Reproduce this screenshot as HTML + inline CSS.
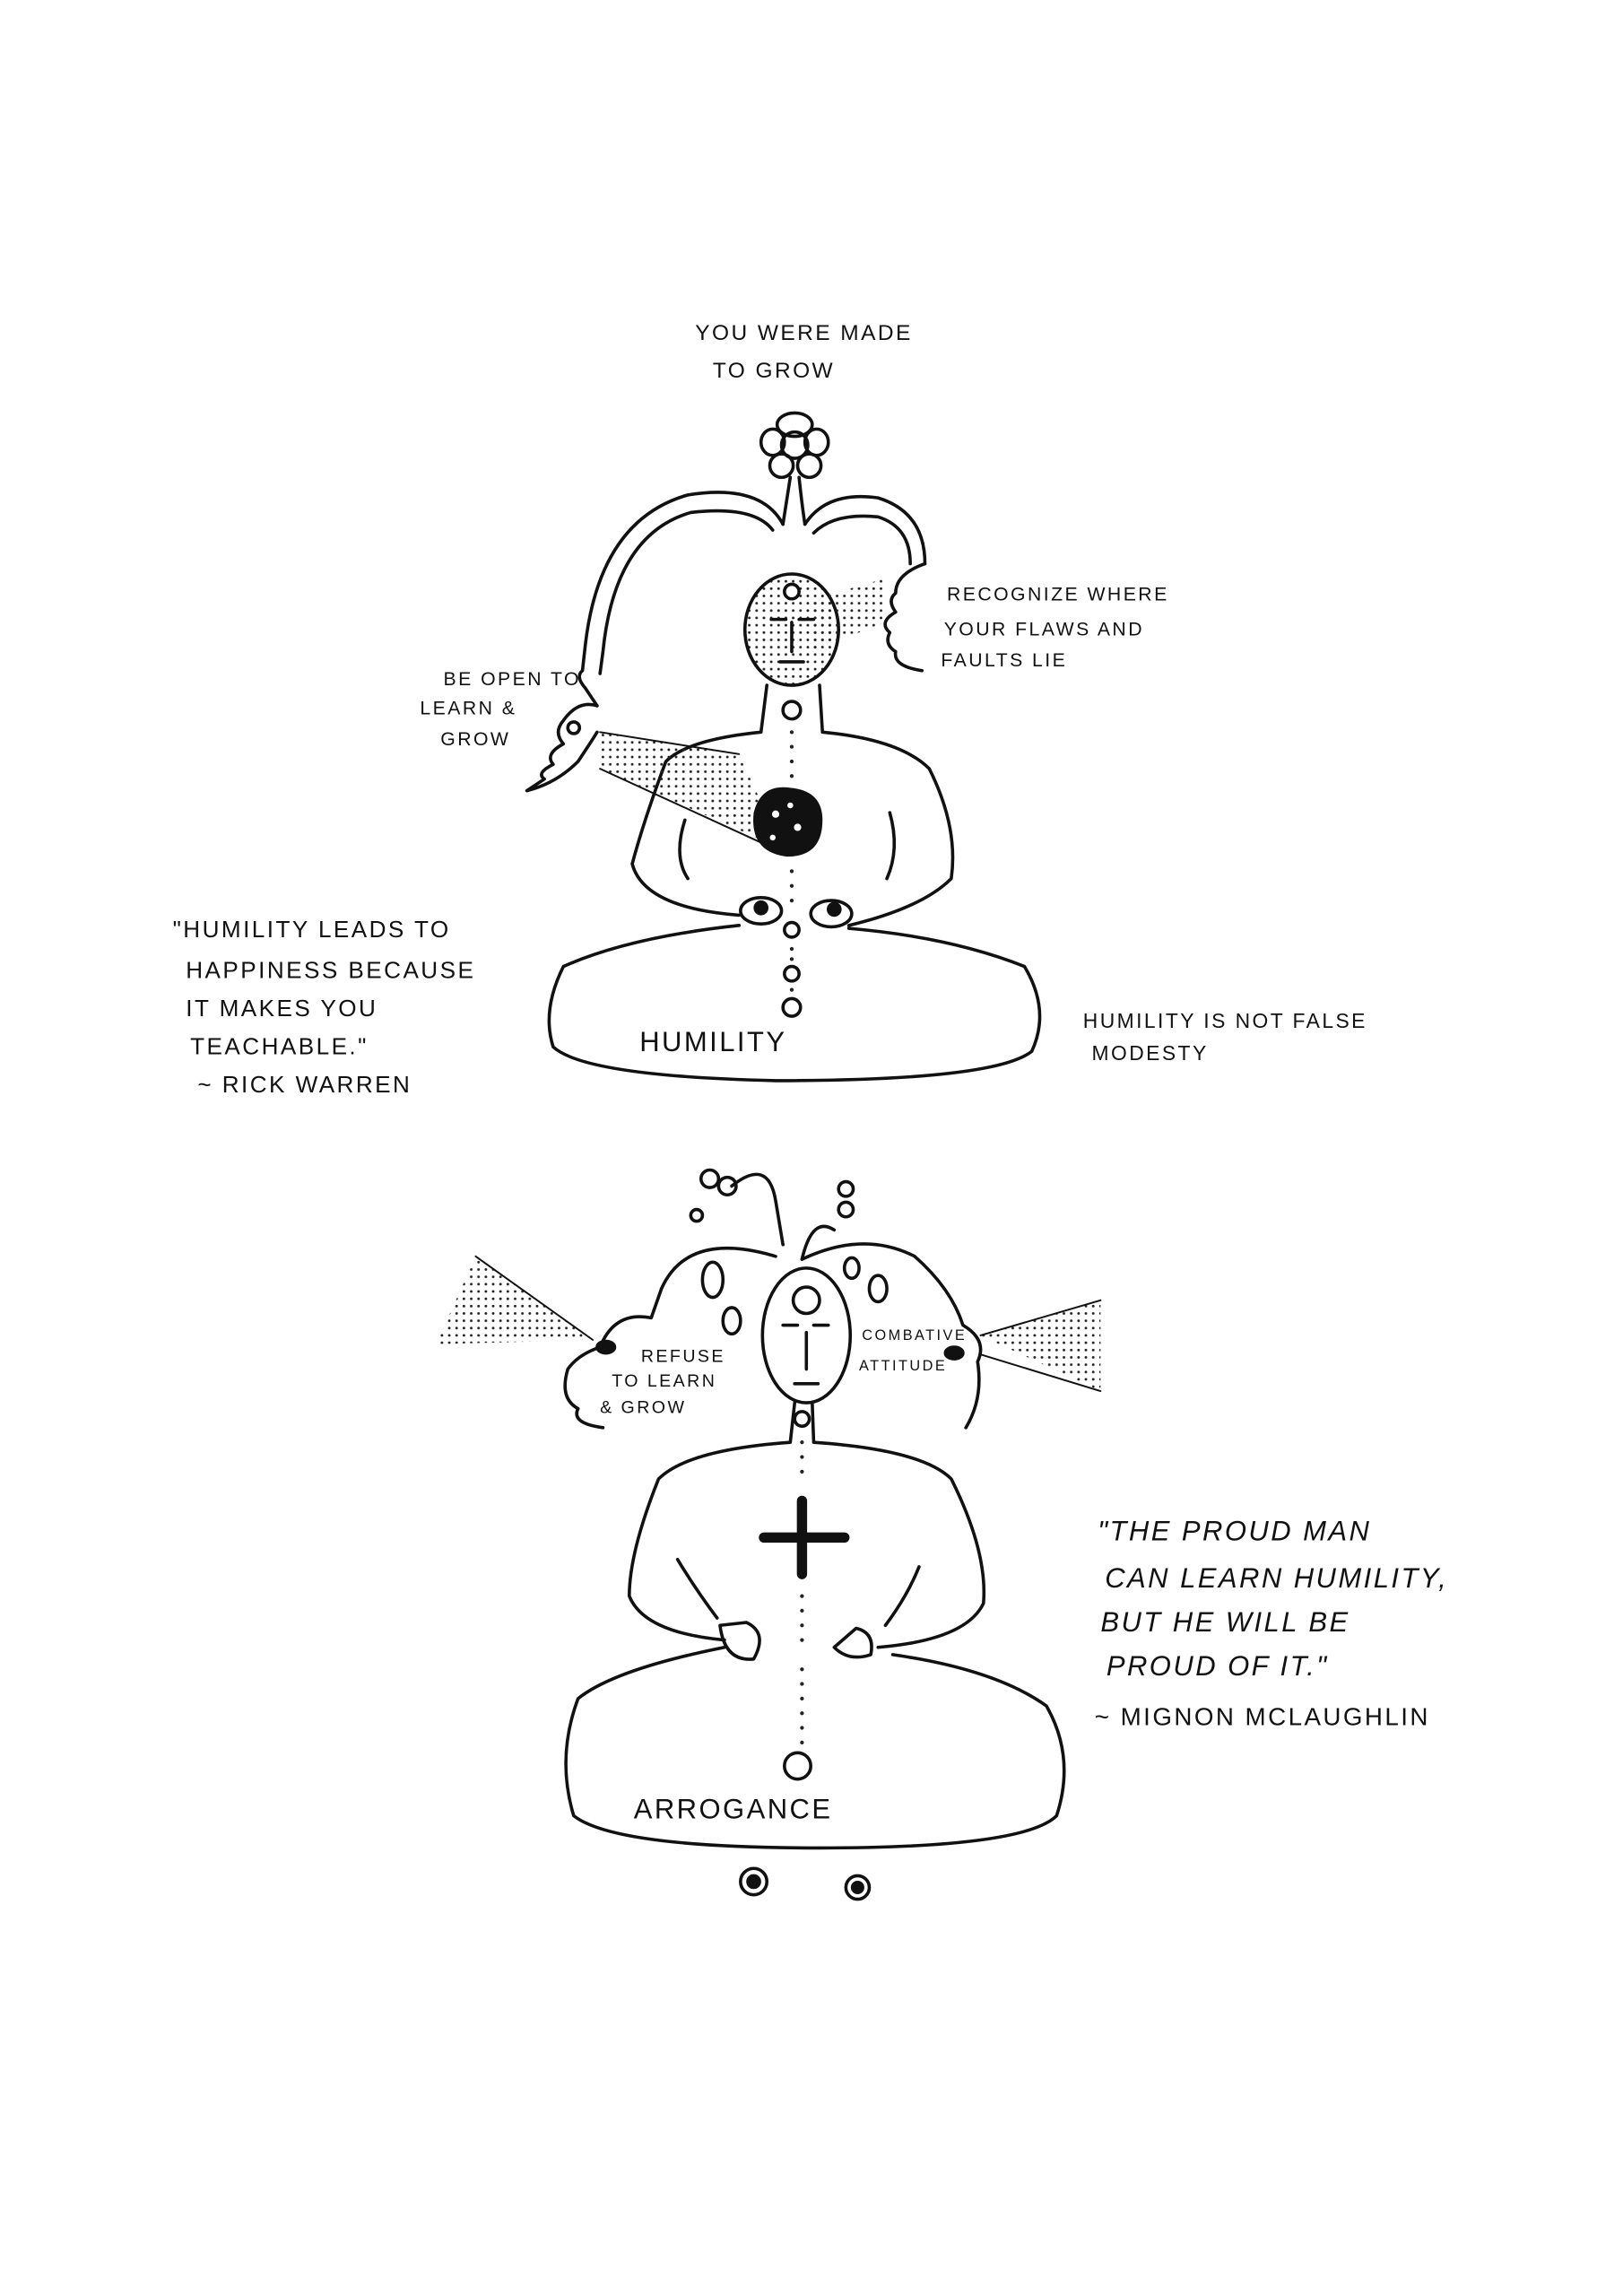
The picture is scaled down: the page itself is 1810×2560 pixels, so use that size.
<!DOCTYPE html>
<html><head><meta charset="utf-8"><style>
html,body{margin:0;padding:0;background:#fff;}
svg{display:block;}
text{font-family:"Liberation Sans",sans-serif;fill:#111;letter-spacing:1.5px;}
</style></head><body>
<svg width="1810" height="2560" viewBox="0 0 1109 1568" preserveAspectRatio="none" xmlns="http://www.w3.org/2000/svg">
<defs>
<pattern id="dots" width="5" height="5" patternUnits="userSpaceOnUse"><circle cx="2" cy="2" r="0.9" fill="#222"/></pattern>
</defs>
<rect width="1109" height="1568" fill="#fff"/>
<g fill="none" stroke="#111" stroke-width="2.2" stroke-linecap="round" stroke-linejoin="round">
<circle cx="543" cy="304" r="9"/>
<ellipse cx="543" cy="290" rx="12" ry="8"/><ellipse cx="528" cy="302" rx="8" ry="9"/><ellipse cx="558" cy="302" rx="8" ry="9"/><ellipse cx="534" cy="318" rx="8" ry="8"/><ellipse cx="553" cy="318" rx="8" ry="8"/>
<path d="M540 326 Q537 345 535 358"/><path d="M546 326 Q548 345 550 358"/>
<path d="M535 358 Q520 330 470 338 Q410 355 400 440 L398 458 Q393 462 400 470 L408 482"/>
<path d="M528 362 Q515 345 472 350 Q420 365 412 445 L410 460"/>
<path d="M550 358 Q565 335 600 340 Q632 350 632 385"/>
<path d="M556 364 Q570 350 600 353 Q622 360 622 385"/>
<ellipse cx="541" cy="430" rx="32" ry="38" fill="url(#dots)"/>
<circle cx="541" cy="404" r="5" fill="#fff"/>
<path d="M527 423 h10 M546 423 h10 M541 425 v20 M533 452 h16"/>
<path d="M632 385 Q612 392 612 405 Q606 410 612 418 Q600 425 608 432 Q604 440 612 445 Q610 455 630 458"/>
<path d="M408 482 Q395 478 385 492 Q378 500 385 508 Q372 515 378 522 Q366 528 372 532 L360 540 Q380 535 395 520 Q405 505 408 500"/>
<circle cx="392" cy="497" r="4"/>
<path d="M524 468 L520 500 Q470 505 455 520 Q440 560 432 590 Q440 620 505 625"/>
<path d="M560 468 L562 500 Q615 505 635 525 Q655 565 650 600 Q630 620 580 632"/>
<path d="M468 560 Q460 585 470 600"/><path d="M608 555 Q615 580 606 600"/>
<ellipse cx="520" cy="622" rx="14" ry="9"/><circle cx="520" cy="620" r="4" fill="#111"/>
<ellipse cx="568" cy="624" rx="14" ry="9"/><circle cx="570" cy="621" r="4" fill="#111"/>
<path d="M505 632 Q430 640 385 660 Q370 690 378 715 Q400 735 530 738 Q680 738 705 718 Q718 690 700 660 Q650 640 580 634"/>
<circle cx="541" cy="485" r="6"/><circle cx="541" cy="635" r="5"/><circle cx="541" cy="665" r="5"/><circle cx="541" cy="688" r="6"/>
<polygon points="553,410 605,395 605,425 553,445" fill="url(#dots)" stroke="none"/>
<polygon points="410,500 505,515 535,580 410,525" fill="url(#dots)" stroke="none"/>
<line x1="410" y1="500" x2="505" y2="515" stroke-width="1.2"/>
<line x1="410" y1="525" x2="530" y2="580" stroke-width="1.2"/>
</g>
<g fill="#222"><circle cx="541" cy="500" r="1.3"/><circle cx="541" cy="510" r="1.3"/><circle cx="541" cy="520" r="1.3"/><circle cx="541" cy="530" r="1.3"/><circle cx="541" cy="595" r="1.3"/><circle cx="541" cy="605" r="1.3"/><circle cx="541" cy="615" r="1.3"/><circle cx="541" cy="648" r="1.3"/><circle cx="541" cy="655" r="1.3"/><circle cx="541" cy="676" r="1.3"/></g>
<path d="M515 555 Q520 535 540 538 Q562 540 562 560 Q562 585 538 585 Q512 582 515 555Z" fill="#111"/>
<g fill="#fff"><circle cx="530" cy="556" r="2.5"/><circle cx="545" cy="565" r="2.5"/><circle cx="540" cy="550" r="2"/><circle cx="528" cy="572" r="2"/></g>

<g fill="none" stroke="#111" stroke-width="2.2" stroke-linecap="round" stroke-linejoin="round">
<circle cx="485" cy="805" r="6"/><circle cx="497" cy="810" r="6"/><circle cx="476" cy="830" r="4"/>
<path d="M500 810 Q525 790 530 820 L535 850"/>
<circle cx="578" cy="812" r="5"/><circle cx="578" cy="826" r="5"/>
<path d="M570 840 Q555 830 548 860"/>
<path d="M530 858 Q470 840 452 880 L445 900 Q420 895 410 920 Q395 925 388 935 Q382 955 395 962 Q390 972 412 975"/>
<path d="M548 860 Q590 840 625 858 Q650 880 658 905 Q675 915 668 930 Q672 955 660 975"/>
<ellipse cx="487" cy="874" rx="7" ry="12"/><ellipse cx="500" cy="902" rx="6" ry="9"/>
<ellipse cx="600" cy="880" rx="6" ry="9"/><ellipse cx="582" cy="866" rx="5" ry="7"/>
<ellipse cx="551" cy="912" rx="30" ry="46"/>
<circle cx="551" cy="888" r="9"/>
<path d="M535 905 h10 M556 905 h10 M551 910 v25 M543 945 h16"/>
<ellipse cx="414" cy="920" rx="6" ry="4" fill="#111"/>
<ellipse cx="652" cy="924" rx="6" ry="4" fill="#111"/>
<path d="M543 958 L540 985 Q470 990 450 1010 Q430 1060 430 1090 Q440 1115 495 1120"/>
<path d="M555 958 L556 985 Q630 990 650 1010 Q675 1060 672 1095 Q660 1120 600 1125"/>
<path d="M463 1065 Q475 1085 490 1105"/><path d="M628 1070 Q620 1090 605 1110"/>
<path d="M492 1110 Q495 1135 515 1133 Q525 1115 510 1108 Z"/>
<path d="M570 1125 Q580 1135 595 1130 Q598 1115 585 1112 Z"/>
<path d="M495 1125 Q420 1140 395 1160 Q380 1200 392 1240 Q420 1262 560 1262 Q700 1262 722 1240 Q735 1200 715 1165 Q680 1140 610 1130"/>
<circle cx="545" cy="1206" r="9"/><circle cx="548" cy="969" r="5"/>
<path d="M548 1025 V1075 M522 1050 H577" stroke-width="7"/>
<circle cx="515" cy="1285" r="9"/><circle cx="515" cy="1285" r="4" fill="#111"/>
<circle cx="586" cy="1289" r="8"/><circle cx="586" cy="1289" r="3.5" fill="#111"/>
<polygon points="298,918 325,858 405,915" fill="url(#dots)" stroke="none"/>
<line x1="325" y1="858" x2="405" y2="915" stroke-width="1.2"/>
<polygon points="670,912 752,888 752,950" fill="url(#dots)" stroke="none"/>
<line x1="670" y1="912" x2="752" y2="888" stroke-width="1.2"/>
<line x1="670" y1="925" x2="752" y2="950" stroke-width="1.2"/>
</g>
<g fill="#222"><circle cx="548" cy="985" r="1.3"/><circle cx="548" cy="995" r="1.3"/><circle cx="548" cy="1005" r="1.3"/><circle cx="548" cy="1090" r="1.3"/><circle cx="548" cy="1100" r="1.3"/><circle cx="548" cy="1110" r="1.3"/><circle cx="548" cy="1120" r="1.3"/><circle cx="548" cy="1140" r="1.3"/><circle cx="548" cy="1150" r="1.3"/><circle cx="548" cy="1160" r="1.3"/><circle cx="548" cy="1170" r="1.3"/><circle cx="548" cy="1180" r="1.3"/><circle cx="548" cy="1190" r="1.3"/></g>

<text x="475" y="232" font-size="15">YOU WERE MADE</text>
<text x="487" y="258" font-size="15">TO GROW</text>
<text x="647" y="410" font-size="13">RECOGNIZE WHERE</text>
<text x="645" y="434" font-size="13">YOUR FLAWS AND</text>
<text x="643" y="455" font-size="13">FAULTS LIE</text>
<text x="303" y="468" font-size="13">BE OPEN TO</text>
<text x="287" y="488" font-size="13">LEARN &amp;</text>
<text x="301" y="509" font-size="13">GROW</text>
<text x="118" y="640" font-size="16">"HUMILITY LEADS TO</text>
<text x="127" y="668" font-size="16">HAPPINESS BECAUSE</text>
<text x="127" y="694" font-size="16">IT MAKES YOU</text>
<text x="130" y="720" font-size="16">TEACHABLE."</text>
<text x="135" y="746" font-size="16">~ RICK WARREN</text>
<text x="437" y="718" font-size="19">HUMILITY</text>
<text x="740" y="702" font-size="14">HUMILITY IS NOT FALSE</text>
<text x="746" y="724" font-size="14">MODESTY</text>
<text x="438" y="930" font-size="12">REFUSE</text>
<text x="418" y="947" font-size="12">TO LEARN</text>
<text x="410" y="965" font-size="12">&amp; GROW</text>
<text x="589" y="915" font-size="10" letter-spacing="0">COMBATIVE</text>
<text x="587" y="936" font-size="10" letter-spacing="0">ATTITUDE</text>
<text x="750" y="1052" font-size="19" font-style="italic" letter-spacing="1">"THE PROUD MAN</text>
<text x="755" y="1084" font-size="19" font-style="italic" letter-spacing="1">CAN LEARN HUMILITY,</text>
<text x="752" y="1114" font-size="19" font-style="italic" letter-spacing="1">BUT HE WILL BE</text>
<text x="756" y="1144" font-size="19" font-style="italic" letter-spacing="1">PROUD OF IT."</text>
<text x="748" y="1178" font-size="17">~ MIGNON MCLAUGHLIN</text>
<text x="433" y="1242" font-size="19">ARROGANCE</text>
</svg>
</body></html>
